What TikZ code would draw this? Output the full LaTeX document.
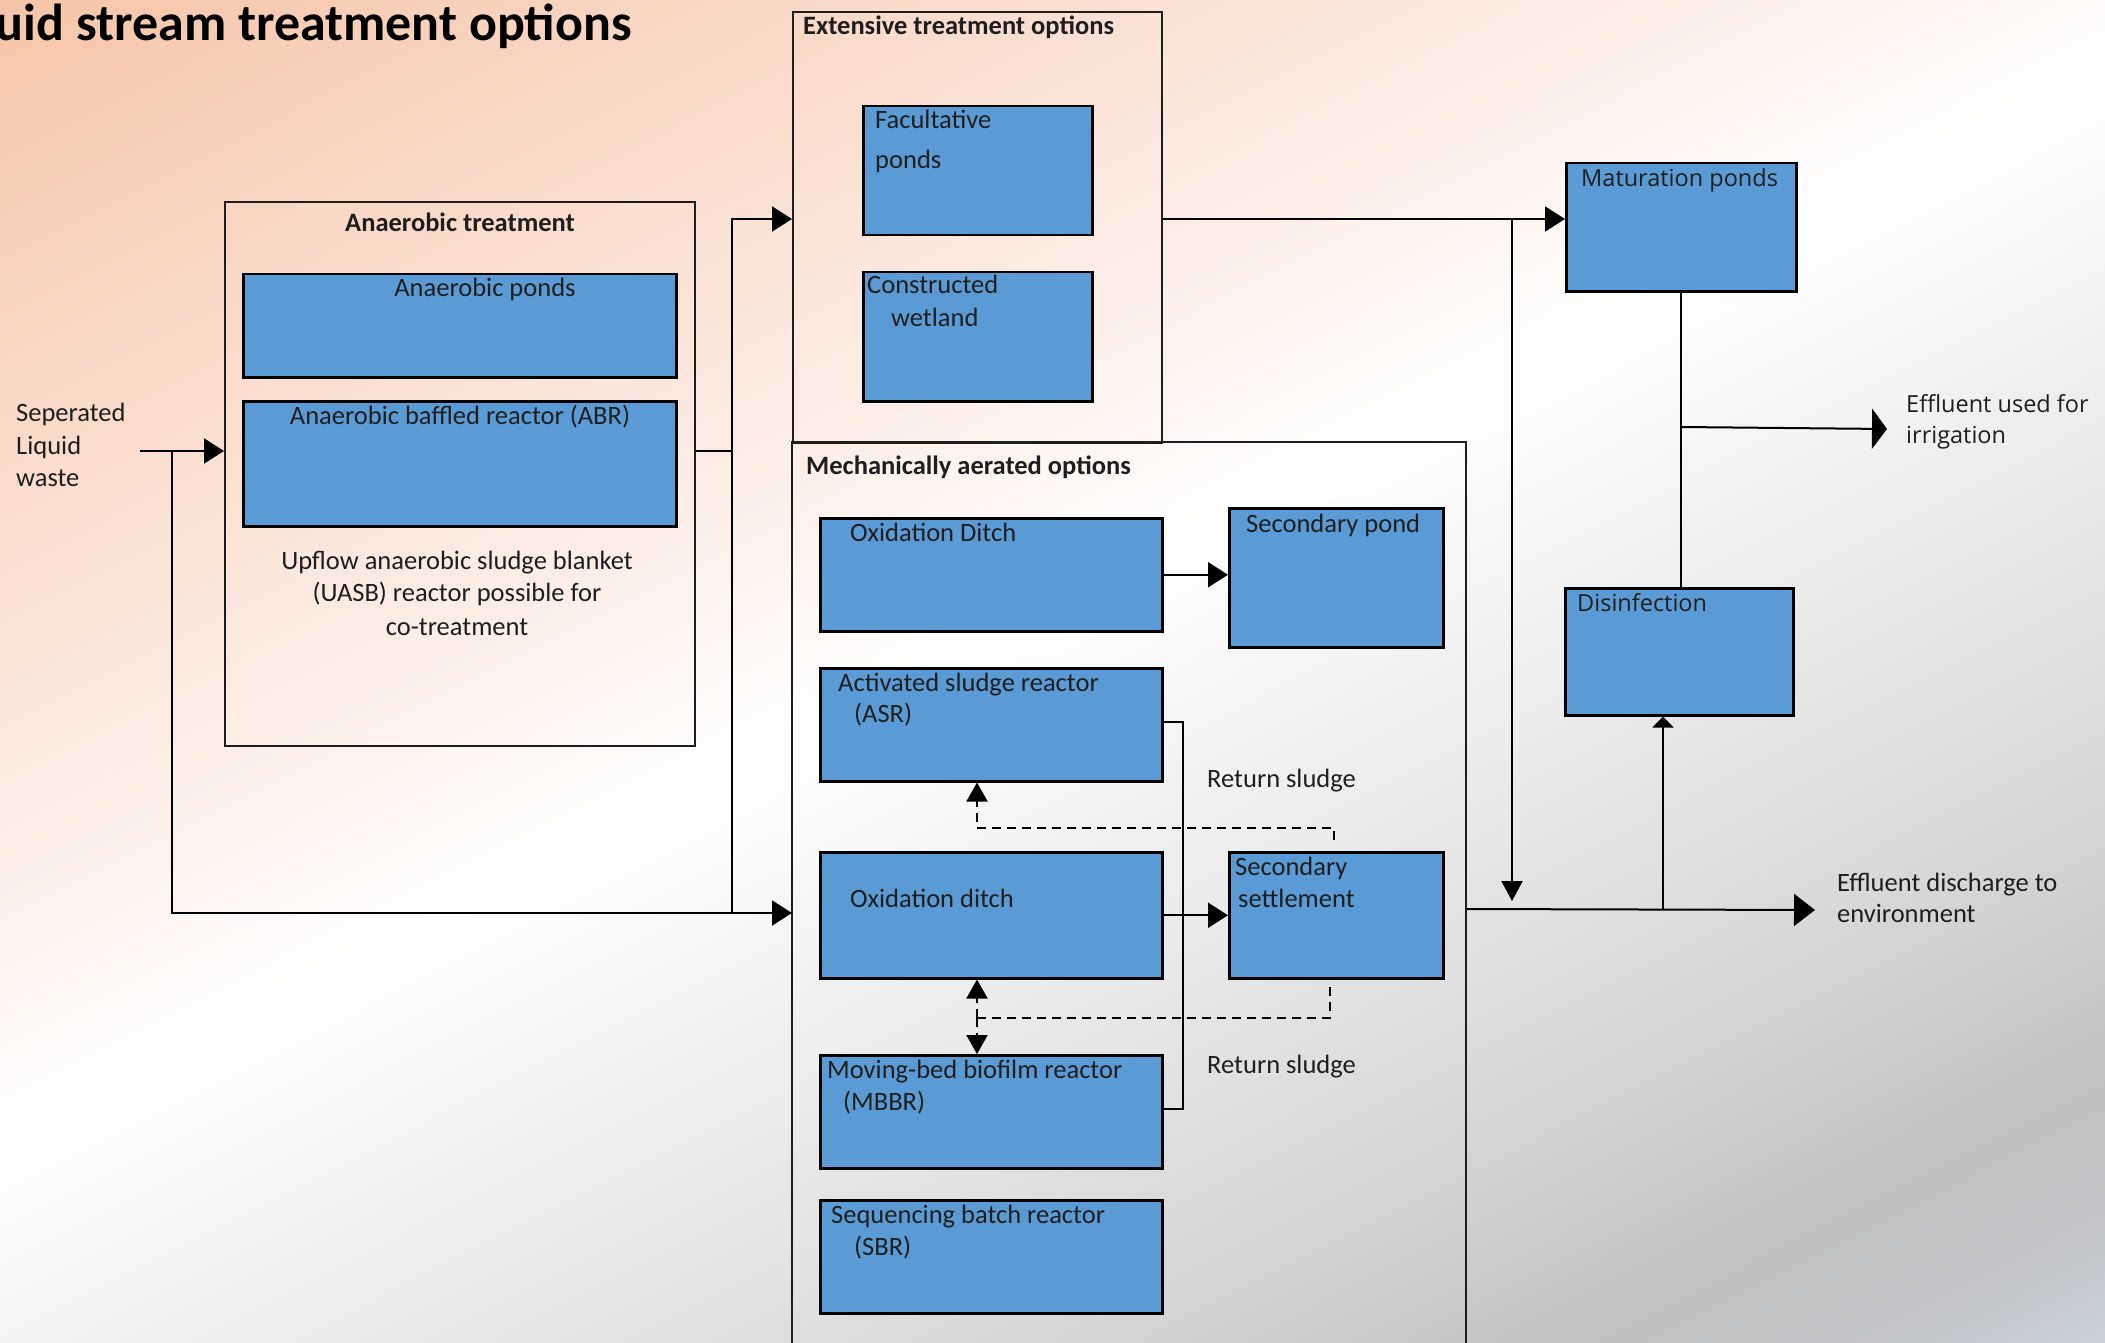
\documentclass[tikz,border=0pt]{standalone}
\usepackage{fontspec}
\setmainfont{Carlito}
\newfontfamily\uifont{Open Sans}
\usetikzlibrary{arrows.meta}

\definecolor{bgA}{HTML}{F5C5A8}
\definecolor{bgB}{HTML}{F9D8C6}
\definecolor{bgC}{HTML}{FCEDE5}
\definecolor{bgD}{HTML}{FFFFFF}
\definecolor{bgE}{HTML}{EEEEEE}
\definecolor{bgF}{HTML}{D8D8D8}
\definecolor{bgG}{HTML}{C0C0C0}
\definecolor{bgH}{HTML}{C3C6CA}
\definecolor{bgI}{HTML}{CBD4DE}
\definecolor{boxblue}{HTML}{5B9BD5}
\definecolor{ink}{HTML}{1E1E1E}

\tikzset{
  outerbox/.style={draw=ink, line width=2pt, inner sep=0pt, anchor=north west},
  bluebox/.style={draw=black, line width=2.5pt, fill=boxblue, inner sep=0pt, anchor=north west},
  txt/.style={font=\fontsize{26.5}{32}\selectfont, text=ink, inner sep=0pt, anchor=base west},
  ctxt/.style={txt, anchor=base},
  hdr/.style={txt, font=\fontsize{26.5}{32}\selectfont\bfseries},
  uitxt/.style={font=\uifont\fontsize{23.5}{31}\selectfont, text=ink, inner sep=0pt, anchor=base west},
  conn/.style={draw=black, line width=2pt},
  arr/.style={conn, -{Triangle[length=20pt,width=25pt]}},
  tallarr/.style={conn, -{Triangle[length=15pt,width=40pt]}},
  widearr/.style={conn, -{Triangle[length=21pt,width=32pt]}},
  flatarr/.style={conn, -{Triangle[length=11pt,width=21pt]}},
  dashline/.style={conn, dash pattern=on 9pt off 6pt},
  darr/.style={dashline, -{Triangle[length=19pt,width=21pt]}}
}

\begin{document}
\begin{tikzpicture}[x=1pt,y=-1pt]
\useasboundingbox (0,0) rectangle (2105,1343);

% diagonal background gradient: peach (top left) -> white -> grey (bottom right)
\begin{scope}
  \clip (0,0) rectangle (2105,1343);
  \foreach \sa/\sb/\ca/\cb in {0/350/bgA/bgB, 350/750/bgB/bgC, 750/1017/bgC/bgD,
      1017/1300/bgD/bgE, 1300/1650/bgE/bgF, 1650/1930/bgF/bgG,
      1930/2060/bgG/bgH, 2060/2170/bgH/bgI} {
    \foreach \i in {0,...,34} {
      \pgfmathsetmacro\s{\sa+(\sb-\sa)*\i/35}
      \pgfmathsetmacro\w{(\sb-\sa)/35+1.5}
      \pgfmathtruncatemacro\p{100*\i/34}
      \fill[\cb!\p!\ca, rotate=-63.0] (\s,-3000) rectangle ++(\w,6000);
    }
  }
\end{scope}

% title
\node[inner sep=0pt, anchor=base east, text=black,
      font=\fontsize{52}{60}\selectfont\bfseries] (title) at (632,41) {uid stream treatment options};

% anaerobic treatment group
\node[outerbox, minimum width=470, minimum height=544] (anb) at (224,201) {};
\node[hdr, anchor=base] (anbT) at (460,232) {Anaerobic treatment};
\node[bluebox, minimum width=433, minimum height=103] (ap) at (242,273) {};
\node[ctxt] (apT) at (485,297) {Anaerobic ponds};
\node[bluebox, minimum width=433, minimum height=125] (abr) at (242,400) {};
\node[ctxt] (abrT) at (460,424) {Anaerobic baffled reactor (ABR)};
\node[ctxt] (ua1) at (457,569) {Upflow anaerobic sludge blanket};
\node[ctxt] (ua2) at (457,601) {(UASB) reactor possible for};
\node[ctxt] (ua3) at (457,635) {co-treatment};

% input label
\node[txt] (in1) at (16,421) {Seperated};
\node[txt] (in2) at (16,454) {Liquid};
\node[txt] (in3) at (16,486) {waste};

% extensive treatment group
\node[outerbox, minimum width=369, minimum height=431] (ext) at (792,11) {};
\node[hdr] (extT) at (803,35) {Extensive treatment options};
\node[bluebox, minimum width=229, minimum height=129] (fac) at (862,105) {};
\node[txt] (fac1) at (875,129) {Facultative};
\node[txt] (fac2) at (875,169) {ponds};
\node[bluebox, minimum width=229, minimum height=129] (cw) at (862,271) {};
\node[txt] (cw1) at (867,294) {Constructed};
\node[txt] (cw2) at (891,326) {wetland};

% mechanically aerated group (runs past the lower edge)
\node[inner sep=0pt, anchor=north west, minimum width=674, minimum height=912] (mech) at (792,442) {};
\draw[ink, line width=2pt] (mech.south west) |- (mech.north east) -- (mech.south east);
\node[hdr] (mechT) at (806,474) {Mechanically aerated options};

\node[bluebox, minimum width=342, minimum height=113] (oxD) at (819,517) {};
\node[txt] (oxDT) at (850,541) {Oxidation Ditch};
\node[bluebox, minimum width=214, minimum height=139] (spond) at (1228,507) {};
\node[txt] (spondT) at (1246,532) {Secondary pond};

\node[bluebox, minimum width=342, minimum height=113] (asr) at (819,667) {};
\node[txt] (asr1) at (838,691) {Activated sludge reactor};
\node[txt] (asr2) at (854,722) {(ASR)};

\node[bluebox, minimum width=342, minimum height=126] (oxd) at (819,851) {};
\node[txt] (oxdT) at (850,907) {Oxidation ditch};
\node[bluebox, minimum width=214, minimum height=126] (sset) at (1228,851) {};
\node[txt] (sset1) at (1235,875) {Secondary};
\node[txt] (sset2) at (1238,907) {settlement};

\node[bluebox, minimum width=342, minimum height=113] (mbbr) at (819,1054) {};
\node[txt] (mbbr1) at (827,1078) {Moving-bed biofilm reactor};
\node[txt] (mbbr2) at (843,1110) {(MBBR)};

\node[bluebox, minimum width=342, minimum height=113] (sbr) at (819,1199) {};
\node[txt] (sbr1) at (831,1223) {Sequencing batch reactor};
\node[txt] (sbr2) at (854,1255) {(SBR)};

\node[txt] (rs1) at (1207,787) {Return sludge};
\node[txt] (rs2) at (1207,1073) {Return sludge};

% polishing and outlets
\node[bluebox, minimum width=230, minimum height=128] (mat) at (1565,162) {};
\node[uitxt] (matT) at (1581,187) {Maturation ponds};
\node[bluebox, minimum width=228, minimum height=127] (dis) at (1564,587) {};
\node[uitxt] (disT) at (1577,611) {Disinfection};

\node[uitxt] (irr1) at (1906,412) {Effluent used for};
\node[uitxt] (irr2) at (1906,443) {irrigation};
\node[txt] (env1) at (1837,891) {Effluent discharge to};
\node[txt] (env2) at (1837,922) {environment};

% ---- connectors ----
\coordinate (inS) at (140,451);
\coordinate (byp) at (172,451);
\coordinate (spl) at (732,451);
\coordinate (yTop) at (0,219);
\coordinate (yBot) at (0,913);

\draw[arr] (inS) -- (inS -| anb.west);
\draw[arr] (byp) |- (mech.west |- yBot);
\draw[conn] (inS -| anb.east) -- (spl);
\draw[arr] (spl) |- (ext.west |- yTop);
\draw[conn] (spl) -- (spl |- yBot);

\draw[arr] (ext.east |- yTop) -- (mat.west |- yTop);
\coordinate (drop) at (1512,219);
\coordinate (dropEnd) at (1512,901);
\draw[conn, -{Triangle[length=20pt,width=21pt]}] (drop) -- (dropEnd);

\coordinate (outJ) at (1663,909);
\coordinate (envEnd) at (1815,910);
\draw[widearr] (mech.east |- outJ) -- (envEnd);
\draw[flatarr] (outJ) -- (outJ |- dis.south);

\draw[conn] (mat.south) -- (mat.south |- dis.north);
\coordinate (irrJ) at (1681,427);
\coordinate (irrEnd) at (1887,429);
\draw[tallarr] (irrJ) -- (irrEnd);

\draw[arr] (oxD.east) -- (oxD.east -| spond.west);
\draw[arr] (oxd.east) -- (oxd.east -| sset.west);

\coordinate (brT) at (1183,722);
\coordinate (brB) at (1183,1109);
\draw[conn] (asr.east |- brT) -- (brT) -- (brB) -- (mbbr.east |- brB);

% return sludge lines
\coordinate (r1a) at (1334,840);
\coordinate (r1b) at (1334,828);
\coordinate (r1c) at (977,828);
\draw[darr] (r1a) -- (r1b) -- (r1c) -- (r1c |- asr.south);

\coordinate (r2a) at (1330,987);
\coordinate (r2b) at (1330,1018);
\coordinate (r2c) at (977,1018);
\draw[dashline] (r2a) -- (r2b) -- (r2c);
\draw[darr] (r2c) -- (r2c |- oxd.south);
\draw[darr] (r2c) -- (r2c |- mbbr.north);
\end{tikzpicture}
\end{document}
